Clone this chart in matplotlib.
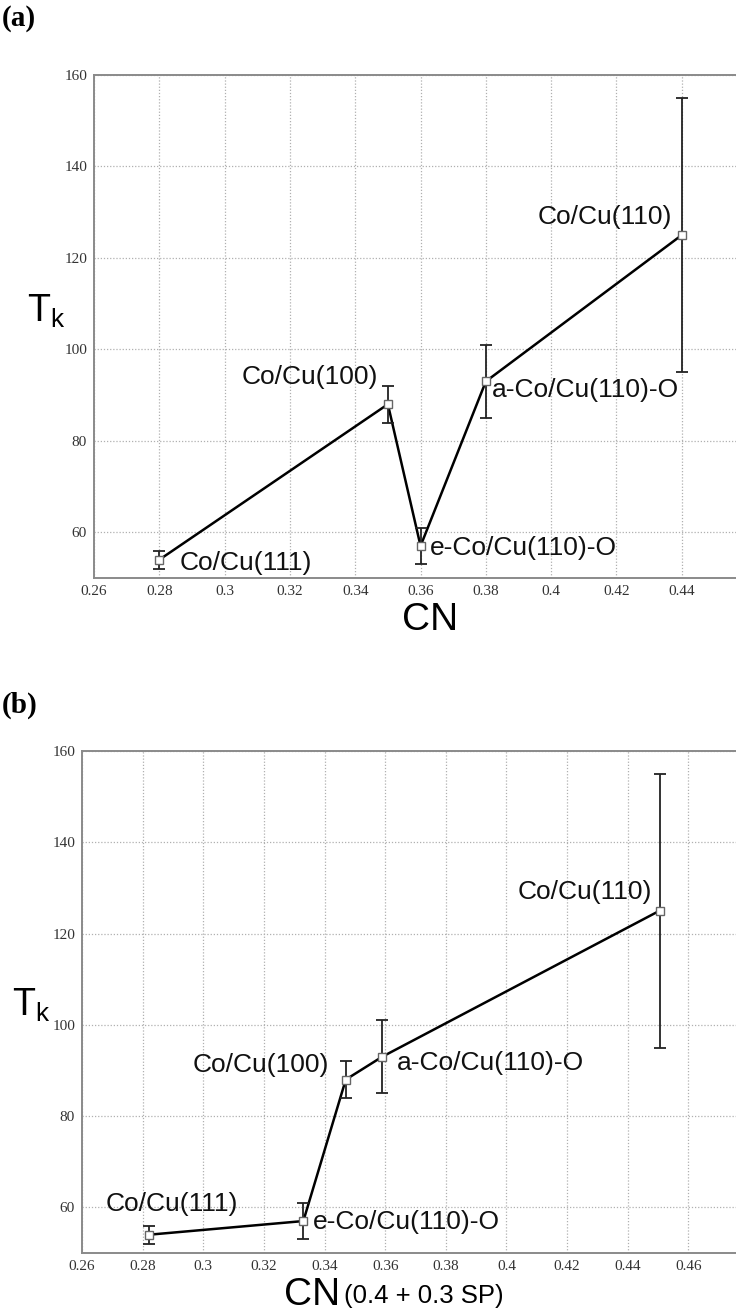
import matplotlib
matplotlib.use("Agg")
import matplotlib.pyplot as plt

# ---- data ----
labels = ["Co/Cu(111)", "Co/Cu(100)", "e-Co/Cu(110)-O", "a-Co/Cu(110)-O", "Co/Cu(110)"]
tk = [54, 88, 57, 93, 125]
tk_err = [2, 4, 4, 8, 30]
cn_a = [0.28, 0.35, 0.36, 0.38, 0.44]
cn_b = [0.282, 0.347, 0.333, 0.359, 0.4505]

xticks_a = [0.26, 0.28, 0.30, 0.32, 0.34, 0.36, 0.38, 0.40, 0.42, 0.44]
xticks_b = [0.26, 0.28, 0.30, 0.32, 0.34, 0.36, 0.38, 0.40, 0.42, 0.44, 0.46]
xticklabels_a = ["0.26", "0.28", "0.3", "0.32", "0.34", "0.36", "0.38", "0.4", "0.42", "0.44"]
xticklabels_b = xticklabels_a + ["0.46"]
yticks = [60, 80, 100, 120, 140, 160]

# label placement (x, y, ha) in data coordinates
lab_pos_a = {
    "Co/Cu(111)": (0.2863, 53.3, "left"),
    "Co/Cu(100)": (0.347, 94.0, "right"),
    "e-Co/Cu(110)-O": (0.3629, 56.5, "left"),
    "a-Co/Cu(110)-O": (0.3819, 91.2, "left"),
    "Co/Cu(110)": (0.437, 129.0, "right"),
}
lab_pos_b = {
    "Co/Cu(111)": (0.2678, 60.8, "left"),
    "Co/Cu(100)": (0.3413, 91.2, "right"),
    "e-Co/Cu(110)-O": (0.3363, 56.8, "left"),
    "a-Co/Cu(110)-O": (0.364, 91.6, "left"),
    "Co/Cu(110)": (0.448, 129.0, "right"),
}

W, H = 736, 1316
fig = plt.figure(figsize=(W / 100, H / 100), dpi=100)

serif = "Liberation Serif"
sans = "Liberation Sans"


def draw(ax, xs, xticks, xticklabels, xlim, lab_pos):
    order = sorted(range(len(xs)), key=lambda i: xs[i])
    x = [xs[i] for i in order]
    y = [tk[i] for i in order]
    e = [tk_err[i] for i in order]
    ax.plot(x, y, color="black", lw=1.8, zorder=3)
    ax.errorbar(x, y, yerr=e, fmt="none", ecolor="#222222", elinewidth=1.3,
                capsize=4.5, capthick=1.3, zorder=4)
    ax.plot(x, y, ls="none", marker="s", ms=6.0, mfc="white", mec="#666666",
            mew=1.0, zorder=5)
    for name in labels:
        px, py, ha = lab_pos[name]
        ax.text(px, py, name, ha=ha, va="center", fontsize=19, family=sans,
                color="#111111", zorder=6)
    ax.set_xlim(*xlim)
    ax.set_ylim(50, 160)
    ax.set_xticks(xticks)
    ax.set_xticklabels(xticklabels, family=serif, fontsize=11)
    ax.set_yticks(yticks)
    ax.set_yticklabels([str(v) for v in yticks], family=serif, fontsize=11)
    ax.tick_params(length=0, pad=5, colors="#333333")
    ax.grid(True, ls=(0, (1, 1.5)), color="#b0b0b0", lw=0.9)
    for s in ["left", "bottom", "top"]:
        ax.spines[s].set_color("#8a8a8a")
        ax.spines[s].set_linewidth(1.4)
    ax.spines["right"].set_visible(False)
    ax.set_axisbelow(True)


# panel (a)
ax1 = fig.add_axes([94 / W, 1 - 578 / H, 1 - 94 / W, (578 - 75) / H])
draw(ax1, cn_a, xticks_a, xticklabels_a, (0.26, 0.4566), lab_pos_a)

# panel (b)
ax2 = fig.add_axes([82 / W, 1 - 1253 / H, 1 - 82 / W, (1253 - 751) / H])
draw(ax2, cn_b, xticks_b, xticklabels_b, (0.26, 0.4757), lab_pos_b)

# panel letters
fig.text(2 / W, 1 - 19 / H, "(a)", family=serif, weight="bold", fontsize=21,
         va="center", ha="left")
fig.text(2 / W, 1 - 705 / H, "(b)", family=serif, weight="bold", fontsize=21,
         va="center", ha="left")

# y labels
fig.text(27 / W, 1 - 322 / H, r"T$_\mathregular{k}$", family=sans, fontsize=27,
         va="baseline", ha="left")
fig.text(12 / W, 1 - 1016 / H, r"T$_\mathregular{k}$", family=sans, fontsize=27,
         va="baseline", ha="left")

# x labels
fig.text(430 / W, 1 - 620 / H, "CN", family=sans, fontsize=28, va="center",
         ha="center")
fig.text(340 / W, 1 - 1295 / H, "CN", family=sans, fontsize=28, va="center",
         ha="right")
fig.text(344 / W, 1 - 1296 / H, "(0.4 + 0.3 SP)", family=sans, fontsize=18.5,
         va="center", ha="left")

fig.savefig("out.png", dpi=100)
